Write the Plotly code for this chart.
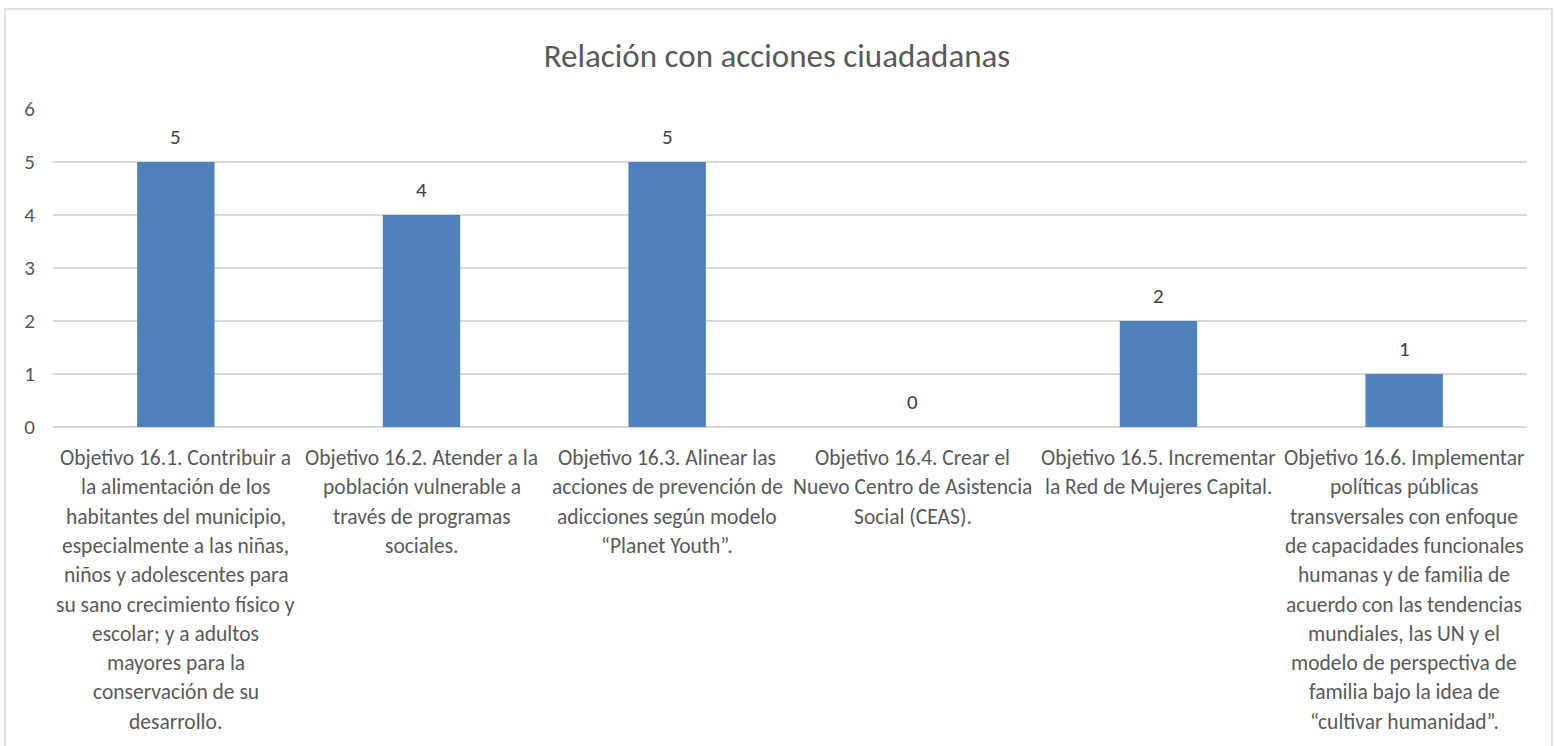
import plotly.graph_objects as go

TITLE = "Relación con acciones ciuadadanas"

categories = ["Objetivo 16.1", "Objetivo 16.2", "Objetivo 16.3",
              "Objetivo 16.4", "Objetivo 16.5", "Objetivo 16.6"]
values = [5, 4, 5, 0, 2, 1]
label_lines = [
    ["Objetivo 16.1. Contribuir a", "la alimentación de los", "habitantes del municipio,",
     "especialmente a las niñas,", "niños y adolescentes para", "su sano crecimiento físico y",
     "escolar; y a adultos", "mayores para la", "conservación de su", "desarrollo."],
    ["Objetivo 16.2. Atender a la", "población vulnerable a", "través de programas", "sociales."],
    ["Objetivo 16.3. Alinear las", "acciones de prevención de", "adicciones según modelo",
     "“Planet Youth”."],
    ["Objetivo 16.4. Crear el", "Nuevo Centro de Asistencia", "Social (CEAS)."],
    ["Objetivo 16.5. Incrementar", "la Red de Mujeres Capital."],
    ["Objetivo 16.6. Implementar", "políticas públicas", "transversales con enfoque",
     "de capacidades funcionales", "humanas y de familia de", "acuerdo con las tendencias",
     "mundiales, las UN y el", "modelo de perspectiva de", "familia bajo la idea de",
     "“cultivar humanidad”."],
]
y_ticks = [0, 1, 2, 3, 4, 5, 6]

FONT = "Carlito, Calibri, Lato, sans-serif"
TEXT = "#595959"
GRID = "#D9D9D9"
W, H = 1554, 746
L, R, T, B = 53, 27, 109, 319

fig = go.Figure()
fig.add_bar(x=categories, y=values, marker=dict(color="#4F81BD", line=dict(width=0)),
            hoverinfo="x+y")

ann = []
for c, v in zip(categories, values):
    ann.append(dict(x=c, y=v, xref="x", yref="y", text=str(v), showarrow=False,
                    yanchor="middle", yshift=25, font=dict(family=FONT, size=21, color="#404040")))
for c, lines in zip(categories, label_lines):
    for i, ln in enumerate(lines):
        ann.append(dict(x=c, y=0, xref="x", yref="y", text=ln, showarrow=False,
                        yanchor="middle", yshift=-31 - 29.3 * i,
                        font=dict(family=FONT, size=21.5, color=TEXT)))

pw, ph = W - L - R, H - T - B
fig.add_shape(type="rect", xref="paper", yref="paper",
              x0=(5 - L) / pw, x1=(1552 - L) / pw,
              y0=-(H + 20 - T - ph) / ph, y1=1 + (T - 9) / ph,
              line=dict(color=GRID, width=1.5), layer="below")

fig.update_layout(
    width=W, height=H,
    margin=dict(l=L, r=R, t=T, b=B),
    paper_bgcolor="white", plot_bgcolor="white",
    title=dict(text=TITLE, x=0.5, xanchor="center", y=1 - 55 / H, yanchor="middle",
               font=dict(family=FONT, size=33, color=TEXT)),
    bargap=0.685,
    showlegend=False,
    annotations=ann,
    xaxis=dict(type="category", showticklabels=False, showgrid=False, zeroline=False,
               showline=False, ticks=""),
    yaxis=dict(range=[0, 6], tickvals=y_ticks, showgrid=True, gridcolor=GRID, gridwidth=1.5,
               zeroline=True, zerolinecolor=GRID, zerolinewidth=1.5, showline=False,
               ticks="", ticklabelstandoff=17,
               tickfont=dict(family=FONT, size=21, color=TEXT)),
)

fig.write_html("out.html", config={"displayModeBar": False},
               post_script="document.body.style.margin='0';")
